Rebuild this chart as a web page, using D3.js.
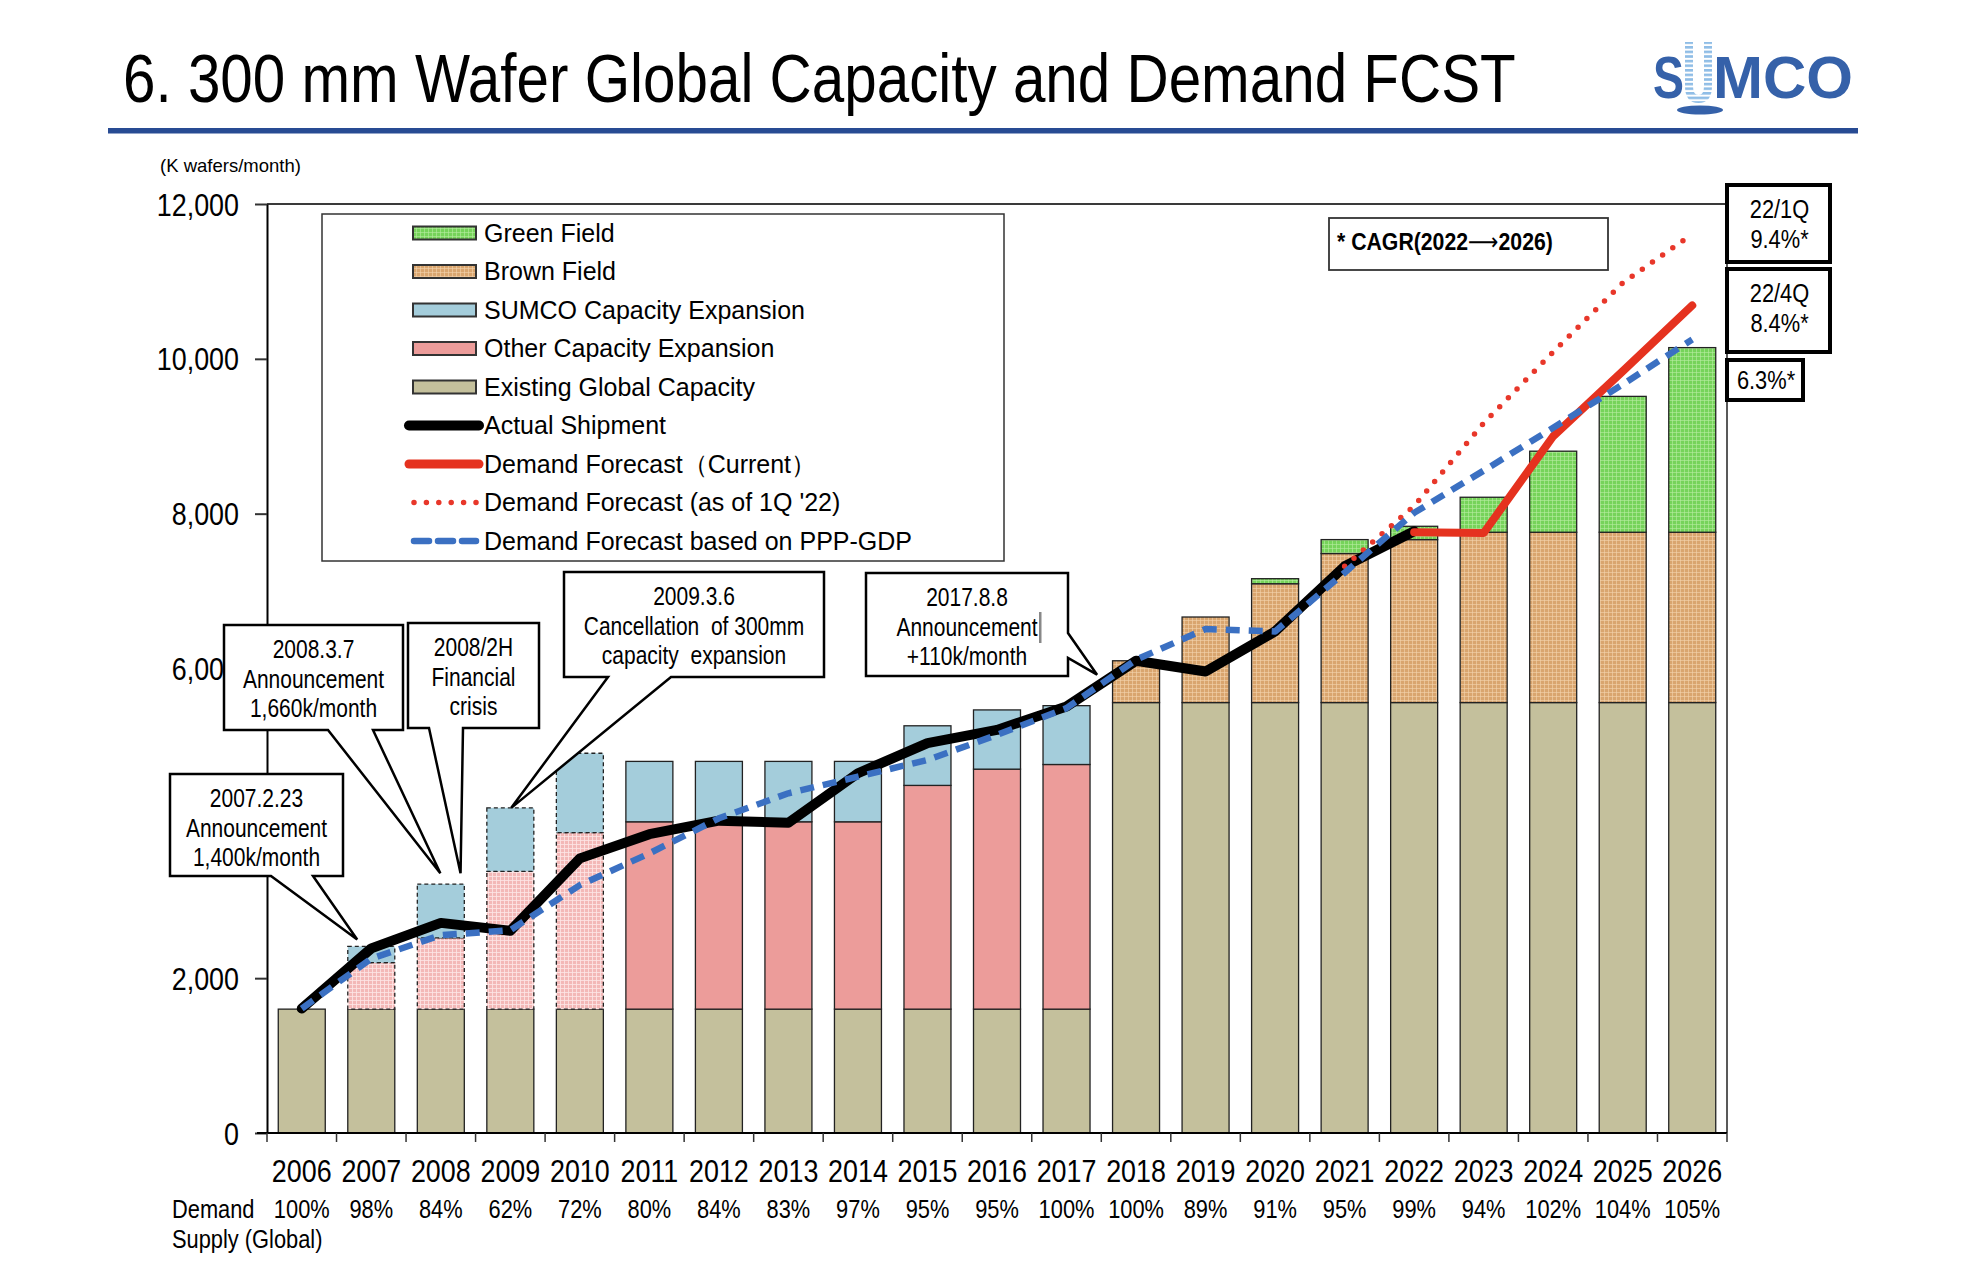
<!DOCTYPE html>
<html>
<head>
<meta charset="utf-8">
<script src="https://cdn.jsdelivr.net/npm/d3@7"></script>
<style>
  body { margin: 0; background: #fff; }
  svg text { font-family: "Liberation Sans", Arial, sans-serif; fill: #000; }
</style>
</head>
<body>
<svg id="chart"></svg>
<script>
// ---- data (K wafers/month) ----
const years = ['2006','2007','2008','2009','2010','2011','2012','2013','2014','2015','2016',
               '2017','2018','2019','2020','2021','2022','2023','2024','2025','2026'];

const existingCap = [1600,1600,1600,1600,1600,1600,1600,1600,1600,1600,1600,1600,
                     5560,5560,5560,5560,5560,5560,5560,5560,5560];
const otherExp    = [0,600,920,1780,2280,2420,2420,2420,2420,2890,3100,3160,
                     0,0,0,0,0,0,0,0,0];
const sumcoExp    = [0,210,695,820,1025,780,780,780,780,770,765,760,
                     0,0,0,0,0,0,0,0,0];
const brownField  = [0,0,0,0,0,0,0,0,0,0,0,0,
                     540,1105,1535,1925,2105,2200,2200,2200,2200];
const greenField  = [0,0,0,0,0,0,0,0,0,0,0,0,
                     0,0,65,180,172,452,1047,1755,2385];
// expansion plans later cancelled (drawn hatched / dashed)
const cancelledYears = ['2007','2008','2009','2010'];

const actualYears = years.slice(0, 17);
const actualShipment = [1607,2385,2714,2611,3547,3860,4034,4008,4647,5035,5207,5509,
                        6100,5961,6479,7320,7773];
const currentYears = ['2022','2023','2024','2025','2026'];
const demandCurrent = [7760,7750,9000,9840,10690];
const q1Years = ['2021','2022','2023','2024','2025','2026'];
const demand1Q22 = [7320,8100,9170,10090,10980,11610];
const pppGdp = [1607,2253,2555,2620,3202,3612,4065,4388,4603,4819,5142,5488,
                6113,6510,6479,7238,8011,8556,9110,9670,10250];

const demandSupply = ['100%','98%','84%','62%','72%','80%','84%','83%','97%','95%','95%',
                      '100%','100%','89%','91%','95%','99%','94%','102%','104%','105%'];
const yTicks = [0,2000,4000,6000,8000,10000,12000];

const W = 1973, H = 1272;
const NX = 0.84;   // narrow face

const svg = d3.select('#chart').attr('width', W).attr('height', H);

function ntext(g, s, x, y, size, anchor, weight) {
  return g.append('text')
    .attr('transform', 'translate(' + x + ',' + y + ') scale(' + NX + ',1)')
    .attr('text-anchor', anchor || 'start')
    .attr('font-size', size)
    .attr('font-weight', weight || 'normal')
    .style('white-space', 'pre')
    .text(s);
}

// textures
const defs = svg.append('defs');
function texture(id, base, line, op) {
  const p = defs.append('pattern').attr('id', id)
    .attr('width', 4).attr('height', 4).attr('patternUnits', 'userSpaceOnUse');
  p.append('rect').attr('width', 4).attr('height', 4).attr('fill', base);
  p.append('path').attr('d', 'M0,0.5H4M0.5,0V4')
    .attr('stroke', line).attr('stroke-opacity', op).attr('stroke-width', 1);
}
texture('tex-brown', '#d9a56e', '#f3d3ae', 0.6);
texture('tex-green', '#76d35a', '#b7eca2', 0.6);
texture('tex-pink', '#f3b8b7', '#fde6e6', 0.8);
const stripes = defs.append('pattern').attr('id', 'logo-stripes')
  .attr('width', 10).attr('height', 4.6).attr('patternUnits', 'userSpaceOnUse');
stripes.append('rect').attr('width', 10).attr('height', 2.6).attr('fill', '#8fbde6');

// ---- header ----
const title = svg.append('text')
  .attr('font-size', 68)
  .text('6. 300 mm Wafer Global Capacity and Demand FCST');
const titleScale = 1393 / title.node().getComputedTextLength();
title.attr('transform', 'translate(123,102) scale(' + titleScale + ',1)');

svg.append('rect').attr('x', 108).attr('y', 128).attr('width', 1750).attr('height', 5.5)
  .attr('fill', '#284b93');

const logo = svg.append('g');
logo.append('text').attr('x', 1653).attr('y', 98).attr('font-size', 60).attr('font-weight', 'bold')
  .attr('textLength', 31).attr('lengthAdjust', 'spacingAndGlyphs')
  .style('fill', '#3561a9').text('S');
logo.append('path')
  .attr('d', 'M1689,42V86Q1689,99 1698.5,99Q1708,99 1708,86V42')
  .attr('fill', 'none').attr('stroke', 'url(#logo-stripes)').attr('stroke-width', 8);
logo.append('text').attr('x', 1713).attr('y', 98).attr('font-size', 60).attr('font-weight', 'bold')
  .attr('textLength', 140).attr('lengthAdjust', 'spacingAndGlyphs')
  .style('fill', '#3561a9').text('MCO');
logo.append('ellipse').attr('cx', 1700).attr('cy', 110).attr('rx', 23).attr('ry', 4.5)
  .attr('fill', '#3561a9');

// ---- scales ----
const pL = 267, pR = 1727, pT = 204, pB = 1133;
const x = d3.scaleBand().domain(years).range([pL, pR]).paddingInner(0.324).paddingOuter(0.162);
const xSlot = d3.scaleBand().domain(years).range([pL, pR]);
const y = d3.scaleLinear().domain([0, 12000]).range([pB, pT]);
const cx = yr => x(yr) + x.bandwidth() / 2;

svg.append('text').attr('x', 160).attr('y', 172).attr('font-size', 18.5).text('(K wafers/month)');

// frame
svg.append('line').attr('x1', pL).attr('x2', pR).attr('y1', pT).attr('y2', pT)
  .attr('stroke', '#3a3a3a').attr('stroke-width', 2);
svg.append('line').attr('x1', pR).attr('x2', pR).attr('y1', pT).attr('y2', pB)
  .attr('stroke', '#222').attr('stroke-width', 1.5);

// y axis
const yAxis = svg.append('g').attr('transform', 'translate(' + pL + ',0)')
  .call(d3.axisLeft(y).tickValues(yTicks).tickSize(12).tickSizeOuter(0).tickPadding(16)
        .tickFormat(d3.format(',')));
yAxis.select('.domain').attr('stroke', '#000').attr('stroke-width', 2);
yAxis.selectAll('.tick line').attr('stroke', '#333').attr('stroke-width', 2);
yAxis.selectAll('.tick text').each(function () {
  const t = d3.select(this);
  const tx = +t.attr('x');
  t.attr('x', 0).attr('dy', null).attr('y', 11)
   .attr('transform', 'translate(' + tx + ',0) scale(' + NX + ',1)')
   .attr('font-size', 32).attr('font-family', null).attr('fill', '#000');
});

// ---- stacked bars ----
const keys = ['existing', 'other', 'sumco', 'brown', 'green'];
const rows = years.map((yr, i) => ({
  year: yr, existing: existingCap[i], other: otherExp[i], sumco: sumcoExp[i],
  brown: brownField[i], green: greenField[i]
}));
const stacked = d3.stack().keys(keys)(rows);
const fills = { existing: '#c4c09c', other: '#ec9c9a', sumco: '#a4cddb',
                brown: 'url(#tex-brown)', green: 'url(#tex-green)' };

const barG = svg.append('g');
stacked.forEach(layer => {
  barG.append('g').selectAll('rect')
    .data(layer.filter(d => d[1] - d[0] > 0))
    .join('rect')
    .attr('x', d => x(d.data.year))
    .attr('width', x.bandwidth())
    .attr('y', d => y(d[1]))
    .attr('height', d => y(d[0]) - y(d[1]))
    .attr('fill', d => {
      const planned = cancelledYears.includes(d.data.year);
      if (planned && layer.key === 'other') return 'url(#tex-pink)';
      return fills[layer.key];
    })
    .attr('stroke', '#222')
    .attr('stroke-width', 1.3)
    .attr('stroke-dasharray', d =>
      cancelledYears.includes(d.data.year) && layer.key !== 'existing' ? '4 3' : null);
});

// x axis
svg.append('line').attr('x1', pL - 10).attr('x2', pR).attr('y1', pB).attr('y2', pB)
  .attr('stroke', '#000').attr('stroke-width', 2);
svg.append('g').selectAll('line')
  .data(years.map(yr => xSlot(yr)).concat([pR]))
  .join('line')
  .attr('x1', d => d).attr('x2', d => d)
  .attr('y1', pB).attr('y2', pB + 9)
  .attr('stroke', '#333').attr('stroke-width', 1.5);

const xAxis = svg.append('g').attr('transform', 'translate(0,' + pB + ')')
  .call(d3.axisBottom(x).tickSize(0).tickPadding(0));
xAxis.select('.domain').remove();
xAxis.selectAll('.tick text')
  .attr('y', 0).attr('dy', null)
  .attr('transform', 'translate(0,49) scale(' + NX + ',1)')
  .attr('font-size', 32).attr('font-family', null).attr('fill', '#000');

// demand / supply row
const ds = svg.append('g');
ntext(ds, 'Demand', 172, 1218, 26);
ntext(ds, 'Supply (Global)', 172, 1248, 26);
years.forEach((yr, i) => ntext(ds, demandSupply[i], cx(yr), 1218, 26, 'middle'));

// ---- lines ----
const line = d3.line().x(d => cx(d[0])).y(d => y(d[1]));
const zip = (a, b) => a.map((k, i) => [k, b[i]]);

svg.append('path').attr('d', line(zip(actualYears, actualShipment)))
  .attr('fill', 'none').attr('stroke', '#000').attr('stroke-width', 10)
  .attr('stroke-linejoin', 'round').attr('stroke-linecap', 'round');
svg.append('path').attr('d', line(zip(currentYears, demandCurrent)))
  .attr('fill', 'none').attr('stroke', '#e5321f').attr('stroke-width', 8)
  .attr('stroke-linejoin', 'round').attr('stroke-linecap', 'round');
svg.append('path').attr('d', line(zip(q1Years, demand1Q22)))
  .attr('fill', 'none').attr('stroke', '#e8372a').attr('stroke-width', 5.5)
  .attr('stroke-dasharray', '0 12.4').attr('stroke-linecap', 'round');
svg.append('path').attr('d', line(zip(years, pppGdp)))
  .attr('fill', 'none').attr('stroke', '#3b70c2').attr('stroke-width', 6.5)
  .attr('stroke-dasharray', '14 9').attr('stroke-linejoin', 'round');

// ---- legend ----
const lg = svg.append('g');
lg.append('rect').attr('x', 322).attr('y', 214).attr('width', 682).attr('height', 347)
  .attr('fill', '#fff').attr('stroke', '#333').attr('stroke-width', 1.5);
const legendItems = [
  { label: 'Green Field', type: 'box', fill: 'url(#tex-green)' },
  { label: 'Brown Field', type: 'box', fill: 'url(#tex-brown)' },
  { label: 'SUMCO Capacity Expansion', type: 'box', fill: '#a4cddb' },
  { label: 'Other Capacity Expansion', type: 'box', fill: '#ec9c9a' },
  { label: 'Existing Global Capacity', type: 'box', fill: '#c4c09c' },
  { label: 'Actual Shipment', type: 'line', stroke: '#000', w: 10 },
  { label: 'Demand Forecast\uFF08Current\uFF09', type: 'line', stroke: '#e5321f', w: 9 },
  { label: "Demand Forecast (as of 1Q '22)", type: 'line', stroke: '#e8372a', w: 5.5, dash: '0 12.4' },
  { label: 'Demand Forecast based on PPP-GDP', type: 'line', stroke: '#3b70c2', w: 6.5, dash: '15 9' }
];
legendItems.forEach((it, i) => {
  const cy = 233 + i * 38.5;
  if (it.type === 'box') {
    lg.append('rect').attr('x', 413).attr('y', cy - 6.5).attr('width', 63).attr('height', 13)
      .attr('fill', it.fill).attr('stroke', '#333').attr('stroke-width', 2);
  } else {
    lg.append('line').attr('x1', it.dash ? 414 : 409).attr('x2', it.dash ? 476 : 479)
      .attr('y1', cy).attr('y2', cy)
      .attr('stroke', it.stroke).attr('stroke-width', it.w)
      .attr('stroke-dasharray', it.dash || null)
      .attr('stroke-linecap', 'round');
  }
  lg.append('text').attr('x', 484).attr('y', cy + 8.5).attr('font-size', 25).text(it.label);
});

// ---- callouts ----
const callouts = [
  { lines: ['2007.2.23', 'Announcement', '1,400k/month'], box: [170, 774, 343, 876],
    tail: [271, 313], tip: ['2007', 0.2, 2500] },
  { lines: ['2008.3.7', 'Announcement', '1,660k/month'], box: [224, 625, 403, 730],
    tail: [328, 373], tip: ['2008', 0.49, 3355] },
  { lines: ['2008/2H', 'Financial', 'crisis'], box: [408, 623, 539, 728],
    tail: [429, 463], tip: ['2008', 0.92, 3355] },
  { lines: ['2009.3.6', 'Cancellation  of 300mm', 'capacity  expansion'], box: [564, 572, 824, 677],
    tail: [608, 671], tip: ['2009', 0.52, 4200] },
  { lines: ['2017.8.8', 'Announcement', '+110k/month'], box: [866, 573, 1068, 676],
    tail: [633, 658], tip: ['2017', 1.15, 5920], side: 'right' }
];
const cg = svg.append('g');
callouts.forEach(c => {
  const [x0, y0, x1, y1] = c.box;
  const tx = x(c.tip[0]) + x.bandwidth() * c.tip[1], ty = y(c.tip[2]);
  let d;
  if (c.side === 'right') {
    d = 'M' + x0 + ',' + y0 + 'H' + x1 + 'V' + c.tail[0] + 'L' + tx + ',' + ty +
        'L' + x1 + ',' + c.tail[1] + 'V' + y1 + 'H' + x0 + 'Z';
  } else {
    d = 'M' + x0 + ',' + y0 + 'H' + x1 + 'V' + y1 + 'H' + c.tail[1] + 'L' + tx + ',' + ty +
        'L' + c.tail[0] + ',' + y1 + 'H' + x0 + 'Z';
  }
  cg.append('path').attr('d', d).attr('fill', '#fff').attr('stroke', '#000')
    .attr('stroke-width', 2.5).attr('stroke-linejoin', 'miter');
  const mid = (x0 + x1) / 2;
  c.lines.forEach((s, i) => ntext(cg, s, mid, y0 + 33 + i * 29.5, 25, 'middle'));
});
// stray text cursor left in the source slide
cg.append('rect').attr('x', 1039).attr('y', 612).attr('width', 2.5).attr('height', 31).attr('fill', '#888');

// ---- CAGR notes ----
const ng = svg.append('g');
ng.append('rect').attr('x', 1329).attr('y', 218).attr('width', 279).attr('height', 52)
  .attr('fill', '#fff').attr('stroke', '#333').attr('stroke-width', 1.8);
const cagr = ng.append('text').attr('font-size', 24).attr('font-weight', 'bold');
cagr.append('tspan').text('* CAGR(2022');
cagr.append('tspan').style('font-family', '"DejaVu Sans", sans-serif').style('font-weight', 'normal')
  .text('\u27F6');
cagr.append('tspan').text('2026)');
const cagrScale = 216 / cagr.node().getComputedTextLength();
cagr.attr('transform', 'translate(1337,250) scale(' + cagrScale + ',1)');

const rateBoxes = [
  { lines: ['22/1Q', '9.4%*'], r: [1727, 185, 103, 77] },
  { lines: ['22/4Q', '8.4%*'], r: [1727, 269, 103, 83] },
  { lines: ['6.3%*'], r: [1727, 360, 76, 40] }
];
rateBoxes.forEach(b => {
  const [bx, by, bw, bh] = b.r;
  ng.append('rect').attr('x', bx).attr('y', by).attr('width', bw).attr('height', bh)
    .attr('fill', '#fff').attr('stroke', '#000').attr('stroke-width', 4);
  const first = b.lines.length === 1 ? by + 29 : by + 33;
  b.lines.forEach((s, i) => ntext(ng, s, bx + bw / 2 + 1, first + i * 29.5, 26, 'middle'));
});
</script>
</body>
</html>
